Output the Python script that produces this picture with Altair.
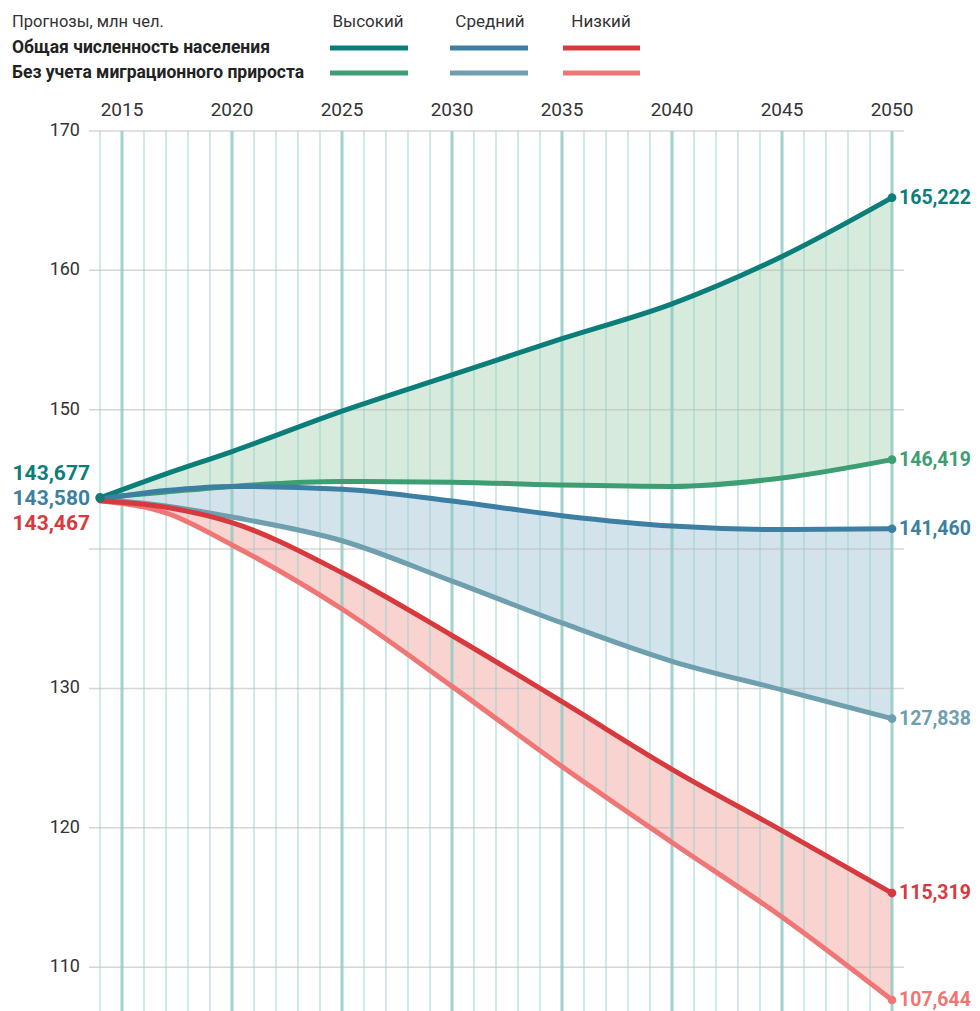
import altair as alt
import pandas as pd

# ---------------- data ----------------
years = [2014, 2017, 2020, 2025, 2030, 2035, 2040, 2045, 2050]
high_total = [143.677, 145.4, 147.0, 149.9, 152.5, 155.1, 157.6, 161.0, 165.222]
high_nomig = [143.677, 144.1, 144.5, 144.85, 144.8, 144.6, 144.5, 145.1, 146.419]
med_total = [143.580, 144.2, 144.5, 144.3, 143.45, 142.4, 141.65, 141.4, 141.460]
med_nomig = [143.580, 143.1, 142.3, 140.6, 137.7, 134.7, 131.95, 129.9, 127.838]
low_total = [143.467, 143.0, 141.9, 138.3, 133.8, 129.05, 124.2, 119.8, 115.319]
low_nomig = [143.467, 142.6, 140.3, 135.7, 130.15, 124.4, 118.95, 113.6, 107.644]

start_labels = ["143,677", "143,580", "143,467"]
y_tick_values = [110, 120, 130, 150, 160, 170]
grid_values = [110, 120, 130, 140, 150, 160, 170]
year_labels = [2015, 2020, 2025, 2030, 2035, 2040, 2045, 2050]
all_years = list(range(2014, 2051))

legend_title = "Прогнозы, млн чел."
row_labels = ["Общая численность населения", "Без учета миграционного прироста"]
col_labels = ["Высокий", "Средний", "Низкий"]

# ---------------- styles ----------------
FONT = "Roboto"
C = {
    "high_total": "#0b7e7a",
    "high_nomig": "#3c9e72",
    "med_total": "#3d7fa2",
    "med_nomig": "#6e9fae",
    "low_total": "#d73a3e",
    "low_nomig": "#f07575",
}
FILL = {"high": "#d6ebdc", "med": "#d3e3ec", "low": "#f9d3d0"}

series = {
    "high_total": high_total, "high_nomig": high_nomig,
    "med_total": med_total, "med_nomig": med_nomig,
    "low_total": low_total, "low_nomig": low_nomig,
}

rows = []
for k, vals in series.items():
    for y, v in zip(years, vals):
        rows.append({"series": k, "year": y, "value": v})
df = pd.DataFrame(rows)

fill_rows = []
for g, top, bot in [("high", high_total, high_nomig), ("med", med_total, med_nomig), ("low", low_total, low_nomig)]:
    for y, a, b in zip(years, top, bot):
        fill_rows.append({"group": g, "year": y, "top": a, "bot": b})
df_fill = pd.DataFrame(fill_rows)

W, H = 792, 878
xs = alt.Scale(domain=[2014, 2050], nice=False, zero=False)
ys = alt.Scale(domain=[107, 170], nice=False, zero=False)

X = lambda f: alt.X(f, scale=xs, axis=None)
Y = lambda f: alt.Y(f, scale=ys, axis=None)

fills = alt.Chart(df_fill).mark_area(interpolate="monotone").encode(
    x=X("year:Q"), y=Y("top:Q"), y2="bot:Q",
    color=alt.Color("group:N", scale=alt.Scale(domain=list(FILL.keys()), range=list(FILL.values())), legend=None),
)

df_vr = pd.DataFrame({"year": all_years})
df_vr["major"] = df_vr["year"] % 5 == 0
vrules_minor = alt.Chart(df_vr[~df_vr.major]).mark_rule(color="#94d0cc", strokeWidth=1, opacity=0.9).encode(
    x=X("year:Q"), y=alt.value(0), y2=alt.value(H + 4))
vrules_major = alt.Chart(df_vr[df_vr.major]).mark_rule(color="#8fcac6", strokeWidth=3, opacity=0.85).encode(
    x=X("year:Q"), y=alt.value(0), y2=alt.value(H + 4))

df_grid = pd.DataFrame({"v": grid_values, "x0": 2013.5, "x1": 2050.55})
hgrid = alt.Chart(df_grid).mark_rule(color="#bbbbbb", strokeWidth=1.5, opacity=0.6).encode(
    x=X("x0:Q"), x2="x1:Q", y=Y("v:Q"))

nomig_keys = ["high_nomig", "med_nomig", "low_nomig"]
total_keys = ["high_total", "med_total", "low_total"]

def lines(keys):
    return alt.Chart(df[df.series.isin(keys)]).mark_line(
        interpolate="monotone", strokeWidth=5, strokeCap="round").encode(
        x=X("year:Q"), y=Y("value:Q"),
        color=alt.Color("series:N", scale=alt.Scale(domain=keys, range=[C[k] for k in keys]), legend=None),
        detail="series:N")

line_nomig = lines(nomig_keys)
line_total = lines(total_keys)

df_end = df[df.year == 2050].copy()
df_end["label"] = df_end["value"].map(lambda v: f"{int(round(v * 1000)):,}")
all_keys = list(C.keys())
cscale = alt.Scale(domain=all_keys, range=[C[k] for k in all_keys])

end_dots = alt.Chart(df_end).mark_circle(size=75, opacity=1).encode(
    x=X("year:Q"), y=Y("value:Q"), color=alt.Color("series:N", scale=cscale, legend=None))
end_text = alt.Chart(df_end).mark_text(align="left", baseline="middle", dx=7, fontSize=19.5,
                                       fontWeight="bold", font=FONT).encode(
    x=X("year:Q"), y=Y("value:Q"), text="label:N",
    color=alt.Color("series:N", scale=cscale, legend=None))

df_start = pd.DataFrame({"year": [2014], "value": [high_total[0]]})
start_dot = alt.Chart(df_start).mark_circle(size=90, opacity=1, color=C["high_total"]).encode(
    x=X("year:Q"), y=Y("value:Q"))

start_layers = []
for lab, key, dy in zip(start_labels, total_keys, [-25, 0, 25]):
    d = pd.DataFrame({"year": [2014], "value": [med_total[0]], "label": [lab]})
    start_layers.append(alt.Chart(d).mark_text(align="right", baseline="middle", dx=-10, dy=dy,
                                               fontSize=21, fontWeight="bold", font=FONT,
                                               color=C[key]).encode(
        x=X("year:Q"), y=Y("value:Q"), text="label:N"))

ytext = alt.Chart(pd.DataFrame({"v": y_tick_values})).mark_text(
    align="right", baseline="middle", fontSize=18, font=FONT, color="#333333").encode(
    x=alt.value(-20), y=Y("v:Q"), text="v:Q")
xtext = alt.Chart(pd.DataFrame({"yr": year_labels})).mark_text(
    align="center", baseline="middle", fontSize=19, font=FONT, color="#333333").encode(
    x=X("yr:Q"), y=alt.value(-21), text="yr:N")

# legend block
blank = alt.Data(values=[{}])
legend_layers = [
    alt.Chart(blank).mark_text(text=legend_title, align="left", baseline="middle", fontSize=16.5,
                               font=FONT, color="#333333").encode(x=alt.value(-88), y=alt.value(-109)),
]
for lab, yy in zip(row_labels, [-83, -58]):
    legend_layers.append(alt.Chart(blank).mark_text(text=lab, align="left", baseline="middle", fontSize=17.5,
                                                    fontWeight="bold", font=FONT, color="#222222").encode(
        x=alt.value(-88), y=alt.value(yy)))
for lab, cx in zip(col_labels, [268, 390, 501]):
    legend_layers.append(alt.Chart(blank).mark_text(text=lab, align="center", baseline="middle", fontSize=17,
                                                    font=FONT, color="#333333").encode(
        x=alt.value(cx), y=alt.value(-109)))
for (k1, k2), (x0, x1) in zip([("high_total", "high_nomig"), ("med_total", "med_nomig"), ("low_total", "low_nomig")],
                              [(230, 308), (350, 428), (463, 540)]):
    for k, yy in [(k1, -83), (k2, -58)]:
        legend_layers.append(alt.Chart(blank).mark_rule(color=C[k], strokeWidth=5).encode(
            x=alt.value(x0), x2=alt.value(x1), y=alt.value(yy)))

chart = alt.layer(
    fills, vrules_minor, vrules_major, hgrid, line_nomig, line_total,
    end_dots, start_dot, end_text, *start_layers, ytext, xtext, *legend_layers
).resolve_scale(color="independent").properties(
    width=W, height=H,
    autosize=alt.AutoSizeParams(type="none"),
    padding={"left": 92, "top": 123, "right": 80, "bottom": 2},
).configure_view(stroke=None)

chart.save("out.html", embed_options={"renderer": "svg", "actions": False})
